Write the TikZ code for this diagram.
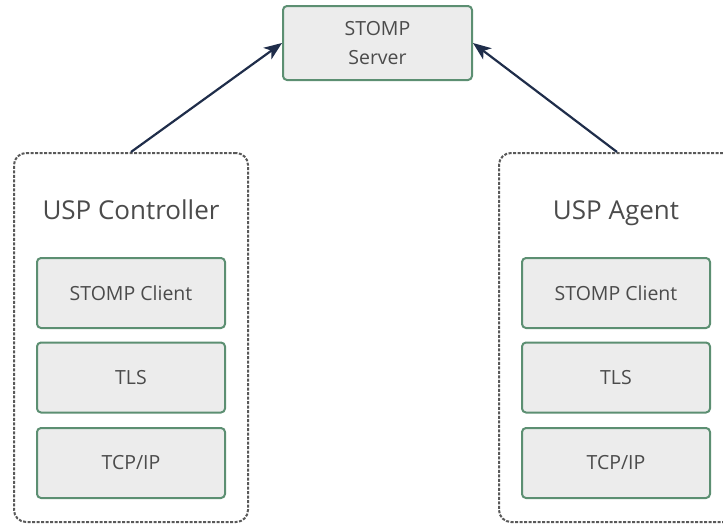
\documentclass[tikz,border=0pt]{standalone}
\usepackage{fontspec}
\setmainfont{Open Sans}
\usepackage{tikz}
\usetikzlibrary{arrows.meta,positioning}
\definecolor{boxgreen}{RGB}{92,143,114}
\definecolor{boxfill}{RGB}{236,236,236}
\definecolor{txtgray}{RGB}{75,75,75}
\definecolor{arrnavy}{RGB}{31,45,74}
\begin{document}
\begin{tikzpicture}[x=1pt,y=-1pt]
    \tikzstyle{layer}=[draw=boxgreen, fill=boxfill, line width=2pt, rounded corners=4pt,
        minimum width=188pt, minimum height=70pt, inner sep=0pt, text=txtgray, font=\fontsize{19.5}{22}\selectfont]
    \tikzstyle{host}=[draw=black!65, dash pattern=on 3pt off 1.5pt, line width=2pt, rounded corners=12pt,
        minimum height=369pt, inner sep=0pt]
    \tikzstyle{hostname}=[anchor=base, text=txtgray, font=\fontsize{26}{30}\selectfont]
    \tikzstyle{link}=[draw=arrnavy, line width=2.2pt, -{Stealth[length=18pt,width=14pt,inset=5pt]}]
    \useasboundingbox (0,0) rectangle (723,525);
    \clip (0,0) rectangle (723,525);
    \node [layer, minimum width=189pt, minimum height=74pt, align=center,
        font=\fontsize{19.5}{29}\selectfont] (server) at (377.5,43) {STOMP\\Server};
    \node [host, minimum width=234pt] (ctrl) at (131,337.5) {};
    \node [host, minimum width=236pt] (agent) at (617,337.5) {};
    \node [hostname] (ctrllabel) at (131,219) {USP Controller};
    \node [hostname] (agentlabel) at (616,219) {USP Agent};
    \node [layer] (cstomp) at (131,293) {STOMP Client};
    \node [layer] (ctls) at (131,377.5) {TLS};
    \node [layer] (ctcp) at (131,463) {TCP/IP};
    \node [layer] (astomp) at (616,293) {STOMP Client};
    \node [layer] (atls) at (616,377.5) {TLS};
    \node [layer] (atcp) at (616,463) {TCP/IP};
    \draw [link] (ctrl.north) -- (server.west);
    \draw [link] (agent.north) -- (server.east);
\end{tikzpicture}
\end{document}
